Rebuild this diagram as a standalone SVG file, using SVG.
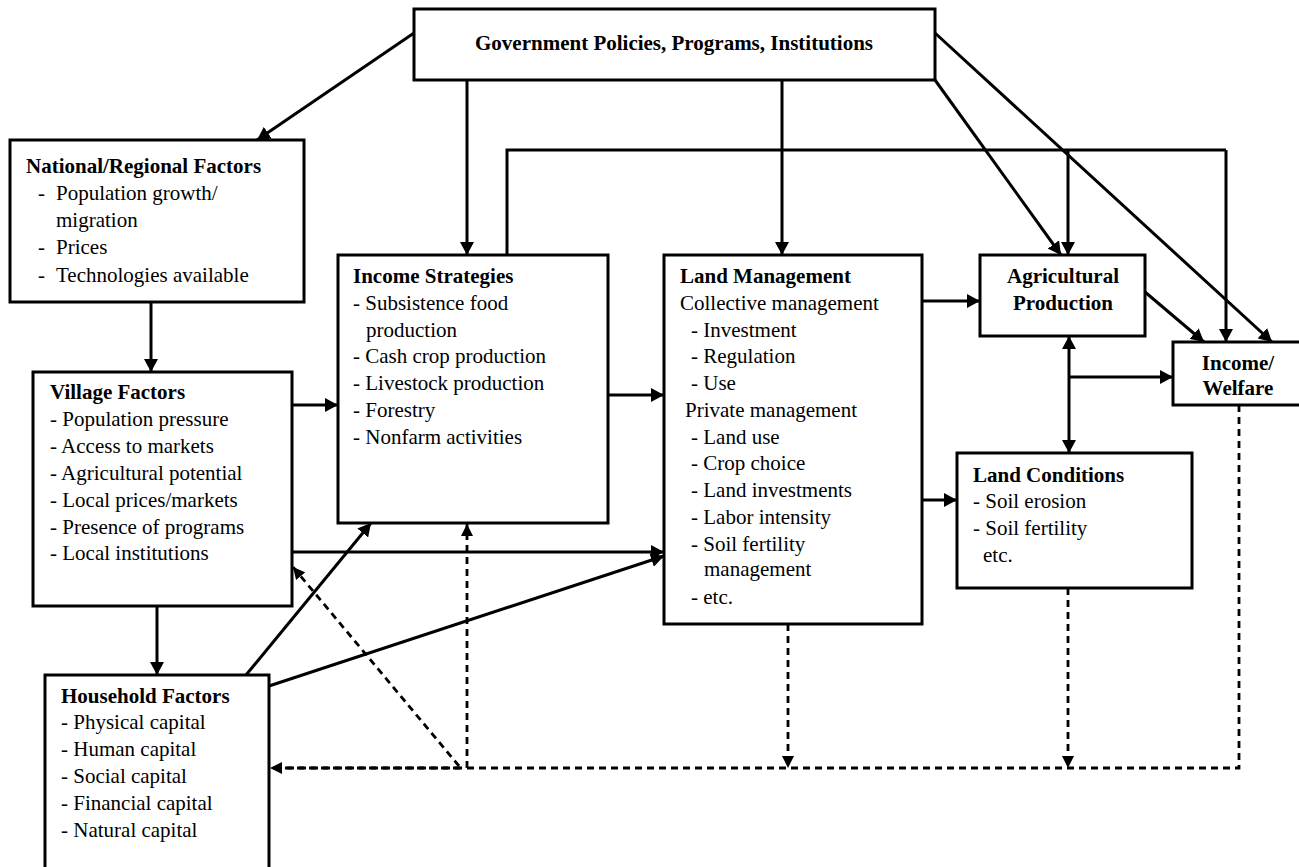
<svg xmlns="http://www.w3.org/2000/svg" width="1299" height="867" viewBox="0 0 1299 867">
<defs>
<marker id="ah" viewBox="0 0 13 14" refX="13" refY="7" markerWidth="13" markerHeight="14" markerUnits="userSpaceOnUse" orient="auto-start-reverse"><path d="M0,0 L13,7 L0,14 z" fill="#000"/></marker>
<marker id="ahd" viewBox="0 0 12 12" refX="12" refY="6" markerWidth="12" markerHeight="12" markerUnits="userSpaceOnUse" orient="auto"><path d="M0,0 L12,6 L0,12 z" fill="#000"/></marker>
</defs>
<style>
.box{fill:#fff;stroke:#000;stroke-width:3}
.t{font-family:"Liberation Serif","Times New Roman",serif;font-size:21px;fill:#000}
.b{font-weight:bold}
.c{text-anchor:middle}
.ln{fill:none;stroke:#000;stroke-width:3}
.ar{fill:none;stroke:#000;stroke-width:3;marker-end:url(#ah)}
.da{fill:none;stroke:#000;stroke-width:2.8;stroke-dasharray:7,5}
.dar{fill:none;stroke:#000;stroke-width:2.8;stroke-dasharray:7,5;marker-end:url(#ahd)}
</style>
<rect width="1299" height="867" fill="#fff"/>
<g id="connectors">
<line class="ar" x1="414" y1="33" x2="257" y2="140"/>
<line class="ar" x1="467" y1="80" x2="467" y2="255"/>
<line class="ar" x1="782" y1="80" x2="782" y2="255"/>
<line class="ar" x1="935" y1="80" x2="1061" y2="255"/>
<line class="ar" x1="935" y1="33" x2="1272" y2="342"/>
<polyline class="ln" points="507,255 507,150 1226,150"/>
<line class="ar" x1="1226" y1="150" x2="1226" y2="342"/>
<line class="ar" x1="1068" y1="150" x2="1068" y2="255"/>
<line class="ar" x1="1145" y1="292" x2="1204" y2="342"/>
<line class="ar" x1="922" y1="301" x2="980" y2="301"/>
<line class="ar" x1="1069" y1="336" x2="1069" y2="453" style="marker-start:url(#ah)"/>
<line class="ar" x1="1069" y1="377" x2="1173" y2="377"/>
<line class="ar" x1="922" y1="500" x2="957" y2="500"/>
<line class="ar" x1="151" y1="302" x2="151" y2="372"/>
<line class="ar" x1="292" y1="405" x2="338" y2="405"/>
<line class="ar" x1="608" y1="395" x2="664" y2="395"/>
<line class="ar" x1="292" y1="552" x2="664" y2="552"/>
<line class="ar" x1="157" y1="606" x2="157" y2="675"/>
<line class="ar" x1="246" y1="675" x2="371" y2="523"/>
<line class="ar" x1="269" y1="686" x2="664" y2="556"/>
<polyline class="da" points="1239,405 1239,768 269,768"/>
<line class="dar" x1="460" y1="768" x2="270" y2="768"/>
<line class="dar" x1="788" y1="624" x2="788" y2="768"/>
<line class="dar" x1="1068" y1="588" x2="1068" y2="768"/>
<line class="dar" x1="467" y1="768" x2="467" y2="524"/>
<line class="dar" x1="459" y1="766" x2="293" y2="567"/>
</g>
<g id="gov">
<rect class="box" x="414" y="9" width="521" height="71"/>
<text class="t b c" x="674" y="50">Government Policies, Programs, Institutions</text>
</g>
<g id="national">
<rect class="box" x="10" y="140" width="294" height="162"/>
<text class="t b" x="26" y="173">National/Regional Factors</text>
<text class="t"><tspan x="38" y="200">-</tspan><tspan x="56" y="200">Population growth/</tspan></text>
<text class="t" x="56" y="227">migration</text>
<text class="t"><tspan x="38" y="254">-</tspan><tspan x="56" y="254">Prices</tspan></text>
<text class="t"><tspan x="38" y="282">-</tspan><tspan x="56" y="282">Technologies available</tspan></text>
</g>
<g id="village">
<rect class="box" x="33" y="372" width="259" height="234"/>
<text class="t b" x="50" y="399">Village Factors</text>
<text class="t" x="50" y="426">- Population pressure</text>
<text class="t" x="50" y="453">- Access to markets</text>
<text class="t" x="50" y="480">- Agricultural potential</text>
<text class="t" x="50" y="507">- Local prices/markets</text>
<text class="t" x="50" y="534">- Presence of programs</text>
<text class="t" x="50" y="560">- Local institutions</text>
</g>
<g id="household">
<rect class="box" x="45" y="675" width="224" height="210"/>
<text class="t b" x="61" y="703">Household Factors</text>
<text class="t" x="61" y="729">- Physical capital</text>
<text class="t" x="61" y="756">- Human capital</text>
<text class="t" x="61" y="783">- Social capital</text>
<text class="t" x="61" y="810">- Financial capital</text>
<text class="t" x="61" y="837">- Natural capital</text>
</g>
<g id="income-strategies">
<rect class="box" x="338" y="255" width="270" height="268"/>
<text class="t b" x="353" y="283">Income Strategies</text>
<text class="t" x="353" y="310">- Subsistence food</text>
<text class="t" x="366" y="337">production</text>
<text class="t" x="353" y="363">- Cash crop production</text>
<text class="t" x="353" y="390">- Livestock production</text>
<text class="t" x="353" y="417">- Forestry</text>
<text class="t" x="353" y="444">- Nonfarm activities</text>
</g>
<g id="land-management">
<rect class="box" x="664" y="255" width="258" height="369"/>
<text class="t b" x="680" y="283">Land Management</text>
<text class="t" x="680" y="310">Collective management</text>
<text class="t" x="691" y="337">- Investment</text>
<text class="t" x="691" y="363">- Regulation</text>
<text class="t" x="691" y="390">- Use</text>
<text class="t" x="685" y="417">Private management</text>
<text class="t" x="691" y="444">- Land use</text>
<text class="t" x="691" y="470">- Crop choice</text>
<text class="t" x="691" y="497">- Land investments</text>
<text class="t" x="691" y="524">- Labor intensity</text>
<text class="t" x="691" y="551">- Soil fertility</text>
<text class="t" x="704" y="576">management</text>
<text class="t" x="691" y="604">- etc.</text>
</g>
<g id="agricultural-production">
<rect class="box" x="980" y="255" width="165" height="81"/>
<text class="t b c" x="1063" y="283">Agricultural</text>
<text class="t b c" x="1063" y="310">Production</text>
</g>
<g id="income-welfare">
<rect class="box" x="1173" y="342" width="129" height="63"/>
<text class="t b c" x="1238" y="370">Income/</text>
<text class="t b c" x="1238" y="395">Welfare</text>
</g>
<g id="land-conditions">
<rect class="box" x="957" y="453" width="235" height="135"/>
<text class="t b" x="973" y="482">Land Conditions</text>
<text class="t" x="973" y="508">- Soil erosion</text>
<text class="t" x="973" y="535">- Soil fertility</text>
<text class="t" x="983" y="562">etc.</text>
</g>
</svg>
